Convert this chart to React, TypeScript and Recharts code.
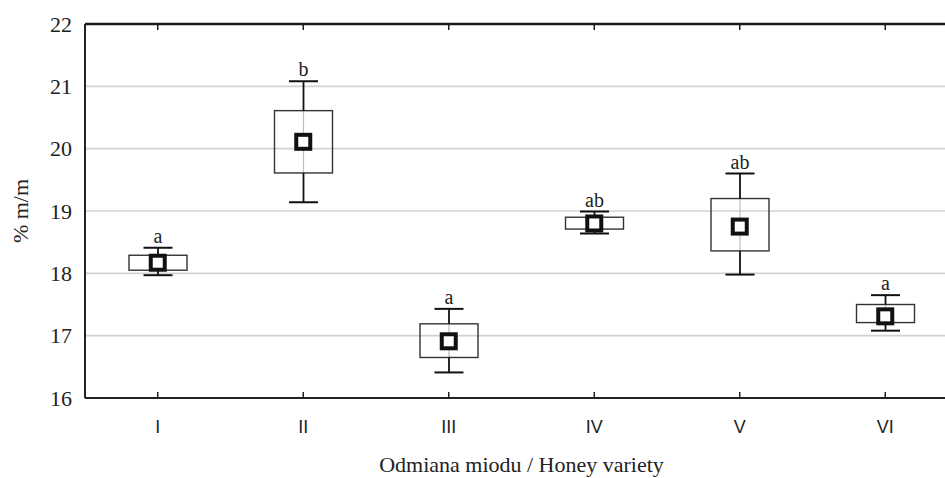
import React from 'react';
import {
  ComposedChart,
  Bar,
  Line,
  XAxis,
  YAxis,
  CartesianGrid,
  LabelList,
  Label,
} from 'recharts';

const VARIETIES = ['I', 'II', 'III', 'IV', 'V', 'VI'];
const MEANS = [18.17, 20.11, 16.91, 18.8, 18.75, 17.31];
const BOX_LOW = [18.05, 19.61, 16.65, 18.71, 18.36, 17.21];
const BOX_HIGH = [18.29, 20.61, 17.19, 18.9, 19.2, 17.5];
const WHISKER_LOW = [17.97, 19.14, 16.41, 18.64, 17.98, 17.08];
const WHISKER_HIGH = [18.41, 21.08, 17.43, 18.99, 19.6, 17.65];
const GROUPS = ['a', 'b', 'a', 'ab', 'ab', 'a'];
const Y_TICKS = [16, 17, 18, 19, 20, 21, 22];

const data = VARIETIES.map((name, i) => ({
  name,
  mean: MEANS[i],
  boxLow: BOX_LOW[i],
  boxHigh: BOX_HIGH[i],
  whiskerLow: WHISKER_LOW[i],
  whiskerHigh: WHISKER_HIGH[i],
  group: GROUPS[i],
}));

const SERIF = '"Liberation Serif", "Times New Roman", serif';
const SANS = '"Liberation Sans", Arial, sans-serif';

// bar covers whisker range; box and caps are placed inside it on the same scale
const BoxShape = (props: any) => {
  const { x, y, width, height, payload } = props;
  if (!payload) return null;
  const cx = x + width / 2;
  const hi = payload.whiskerHigh;
  const lo = payload.whiskerLow;
  const k = height / (hi - lo);
  const py = (v: number) => y + (hi - v) * k;
  const cap = 14.5;
  const top = py(payload.boxHigh);
  const bot = py(payload.boxLow);
  return (
    <g>
      <line x1={cx} x2={cx} y1={top} y2={bot} stroke="#bdbdbd" strokeWidth={1.2} />
      <rect x={x} y={top} width={width} height={bot - top} fill="none" stroke="#333" strokeWidth={1.4} />
      <line x1={cx} x2={cx} y1={py(hi)} y2={top} stroke="#111" strokeWidth={1.8} />
      <line x1={cx} x2={cx} y1={bot} y2={py(lo)} stroke="#111" strokeWidth={1.8} />
      <line x1={cx - cap} x2={cx + cap} y1={py(hi)} y2={py(hi)} stroke="#111" strokeWidth={2} />
      <line x1={cx - cap} x2={cx + cap} y1={py(lo)} y2={py(lo)} stroke="#111" strokeWidth={2} />
    </g>
  );
};

const MeanDot = (props: any) => {
  const { cx, cy } = props;
  if (cx == null || cy == null) return null;
  return <rect x={cx - 7} y={cy - 7} width={14} height={14} fill="#fff" stroke="#111" strokeWidth={4} />;
};

export default function App() {
  return (
    <div style={{ position: 'absolute', left: 0, top: 0, width: 945, height: 478, overflow: 'hidden', background: '#fff' }}>
      <ComposedChart
        width={960}
        height={478}
        data={data}
        margin={{ top: 24, right: 2, left: 0, bottom: 0 }}
      >
        <CartesianGrid horizontal vertical={false} stroke="#d2d2d2" strokeWidth={1.6} />
        <XAxis
          xAxisId="top"
          orientation="top"
          dataKey="name"
          height={1}
          mirror
          axisLine={{ stroke: '#1a1a1a', strokeWidth: 2.5 }}
          tickLine={{ stroke: '#1a1a1a', strokeWidth: 1.5 }}
          tickSize={6}
          tickFormatter={() => ''}
        />
        <XAxis
          dataKey="name"
          height={80}
          axisLine={{ stroke: '#222', strokeWidth: 2 }}
          tickLine={{ stroke: '#222', strokeWidth: 1.5 }}
          tickSize={-6}
          tickMargin={28}
          tick={{ fill: '#222', fontSize: 18, fontFamily: SANS }}
        >
          <Label
            value="Odmiana miodu / Honey variety"
            position="insideBottom"
            offset={6}
            style={{ fill: '#222', fontSize: 22, fontFamily: SERIF }}
          />
        </XAxis>
        <YAxis
          width={85}
          domain={[16, 22]}
          ticks={Y_TICKS}
          type="number"
          allowDataOverflow
          axisLine={{ stroke: '#222', strokeWidth: 2 }}
          tickLine={false}
          tickMargin={7}
          tick={{ fill: '#222', fontSize: 22, fontFamily: SERIF }}
        >
          <Label
            value="% m/m"
            angle={-90}
            position="insideLeft"
            offset={20}
            style={{ fill: '#222', fontSize: 22, fontFamily: SERIF, textAnchor: 'middle' }}
          />
        </YAxis>
        <Bar
          dataKey={(d: any) => [d.whiskerLow, d.whiskerHigh]}
          barSize={58}
          shape={<BoxShape />}
          isAnimationActive={false}
        >
          <LabelList
            dataKey="group"
            position="top"
            offset={5}
            fill="#222"
            fontSize={20}
            fontFamily={SERIF}
          />
        </Bar>
        <Line
          dataKey="mean"
          stroke="none"
          dot={<MeanDot />}
          activeDot={false}
          isAnimationActive={false}
        />
      </ComposedChart>
    </div>
  );
}
